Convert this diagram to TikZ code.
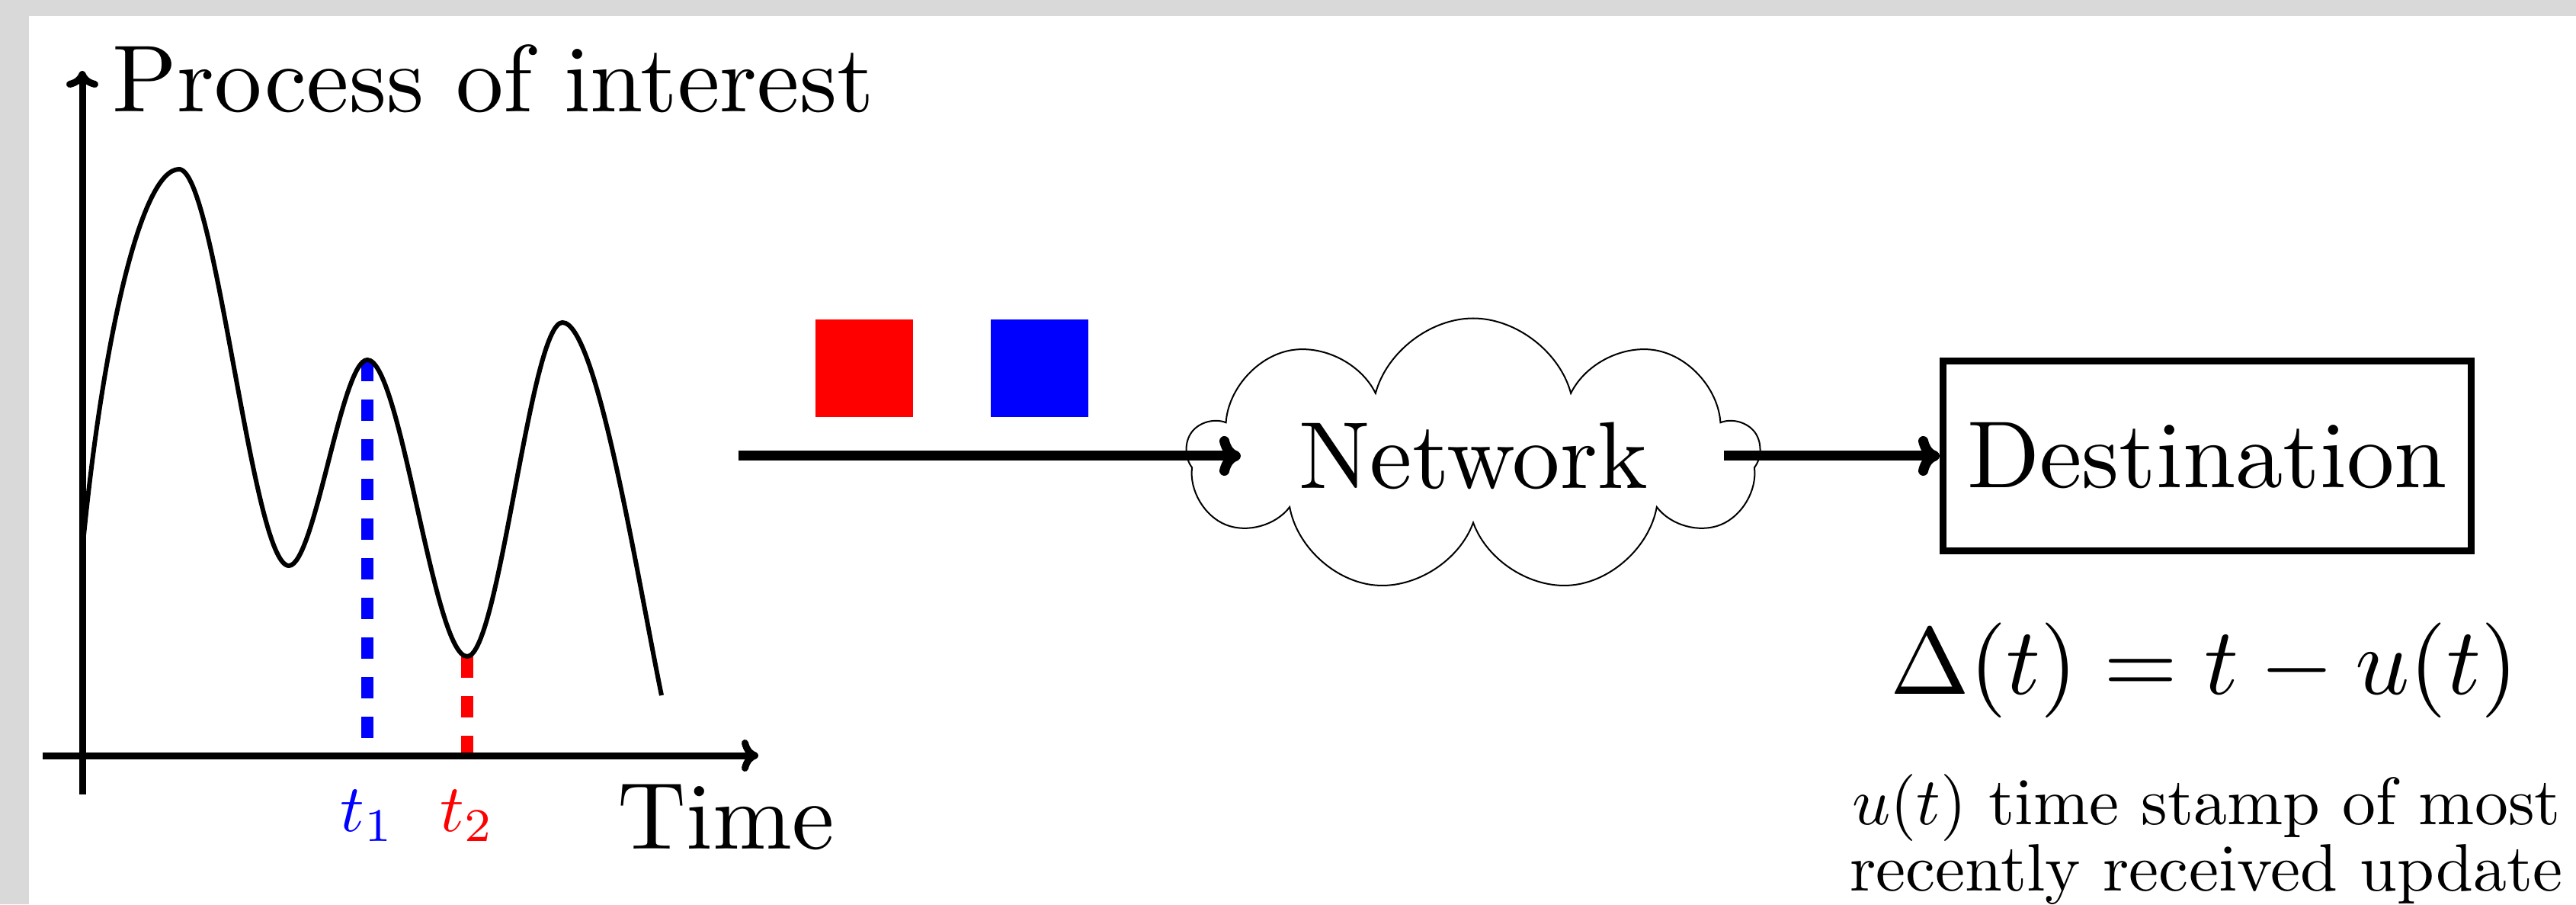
\documentclass[tikz,border=0pt]{standalone}
\usepackage{graphicx}
\usetikzlibrary{arrows.meta,shapes.symbols}
\newcommand{\bigtxt}[1]{\scalebox{3.55}{#1}}
\newcommand{\smalltxt}[1]{\scalebox{2.5}{#1}}

\begin{document}
\begin{tikzpicture}[
  axis/.style={line width=0.9mm,-{Computer Modern Rightarrow[length=2.2mm,width=4.2mm]}},
  flow/.style={line width=1.3mm,-{Computer Modern Rightarrow[length=2.8mm,width=5.2mm]}},
  stampline/.style={line width=1.6mm,dash pattern=on 2.8mm off 2.4mm},
  packet/.style={minimum size=1.28cm,inner sep=0},
]
\useasboundingbox (0,0) rectangle (33.8,11.86);
\fill[gray!30] (0,0) rectangle (33.8,11.86);
\fill[white] (0.38,0) rectangle (33.8,11.65);

% process and its two update times
\coordinate (O) at (1.08,1.95);
\coordinate (pk) at (4.82,7.14);
\coordinate (tr) at (6.13,3.25);
\draw[stampline,blue] (pk) -- (pk |- O);
\draw[stampline,red] (tr) -- (tr |- O);
\draw[line width=0.6mm] (1.09,4.74) .. controls (1.35,7.4) and (1.85,9.64) .. (2.35,9.64)
  .. controls +(0.48,0) and +(-0.48,0) .. (3.79,4.44)
  .. controls +(0.34,0) and +(-0.34,0) .. (pk)
  .. controls +(0.44,0) and +(-0.44,0) .. (tr)
  .. controls +(0.42,0) and +(-0.42,0) .. (7.38,7.63)
  .. controls +(0.45,0) and (8.36,4.3) .. (8.68,2.74);
\draw[axis] (1.08,1.44) -- (1.08,10.93);
\draw[axis] (0.56,1.95) -- (9.95,1.95);
\node[anchor=base west,inner sep=0] (ylab) at (1.47,10.39) {\bigtxt{Process of interest}};
\node[anchor=base west,inner sep=0] (xlab) at (8.10,0.73) {\bigtxt{Time}};
\node[anchor=base,inner sep=0,blue] (lt1) at (pk |- 0,0.96) {\smalltxt{$t_1$}};
\node[anchor=base,inner sep=0,red] (lt2) at (tr |- 0,0.96) {\smalltxt{$t_2$}};

% packets on the way
\node[packet,fill=red] (pktB) at (11.34,7.03) {};
\node[packet,fill=blue] (pktA) at (13.64,7.03) {};

\coordinate (feed) at (9.69,5.88);
\node[cloud,draw,line width=0.2mm,cloud puffs=9,cloud ignores aspect,minimum width=7.5cm,minimum height=3.61cm] (net) at (19.33,5.88) {\bigtxt{Network}};
\node[draw,line width=0.9mm,minimum width=6.93cm,minimum height=2.49cm] (dest) at (28.96,5.88) {\bigtxt{Destination}};
\draw[flow,shorten >=3.05cm] (feed) -- (net.center);
\draw[flow,shorten <=3.29cm] (net.center) -- (dest);

\node[anchor=base] (age) at (28.92,2.75) {\bigtxt{$\Delta(t)=t-u(t)$}};
\node[anchor=base] (note) at (28.95,0.18) {\smalltxt{\vbox{\baselineskip=9.9pt\halign{\hfil#\hfil\cr
  $u(t)$ time stamp of most\cr recently received update\cr}}}};
\end{tikzpicture}
\end{document}
